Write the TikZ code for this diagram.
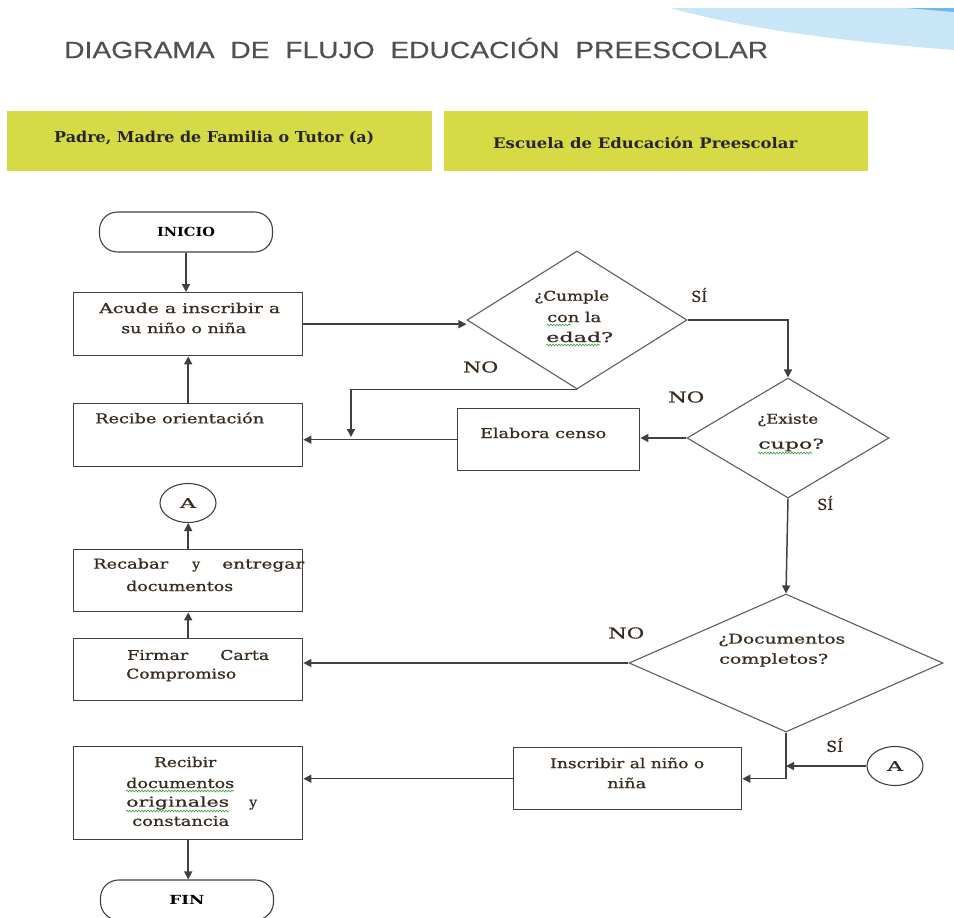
\documentclass[tikz,border=0pt]{standalone}
\usepackage{fontspec}
\usepackage{graphicx}
\setmainfont{DejaVu Serif}
\newfontfamily\titlefont{Liberation Sans}
\usetikzlibrary{arrows.meta,shapes.geometric,decorations.pathmorphing}
\newcommand{\fw}[2]{\resizebox{#1pt}{\height}{#2}}
\definecolor{hdrgreen}{RGB}{214,219,69}
\definecolor{skyblue}{RGB}{200,230,248}
\definecolor{deepblue}{RGB}{110,185,235}
\definecolor{linegray}{RGB}{64,64,64}
\definecolor{titlegray}{RGB}{80,80,80}
\definecolor{txtbrown}{RGB}{55,42,30}
\definecolor{spellgreen}{RGB}{60,160,60}
\begin{document}
\begin{tikzpicture}[x=1pt,y=-1pt,
  procbox/.style={draw=linegray,line width=1.4pt,minimum width=229pt,minimum height=63pt,inner sep=0pt,anchor=north west},
  decis/.style={draw=linegray!85,line width=1.1pt,diamond,inner sep=0pt},
  term/.style={draw=linegray,line width=1.1pt,rounded corners=18pt,minimum width=173pt,minimum height=40pt,inner sep=0pt},
  conn/.style={draw=linegray,line width=1.1pt,minimum width=56pt,minimum height=39pt,ellipse,inner sep=0pt},
  txt/.style={inner sep=0pt,anchor=west,text=txtbrown,font=\fontsize{13.5}{16}\selectfont\addfontfeature{FakeBold=0.7}},
  lbl/.style={inner sep=0pt,anchor=west,text=txtbrown,font=\fontsize{15}{18}\selectfont\addfontfeature{FakeBold=0.7}},
  arr/.style={draw=linegray,line width=1.5pt,-{Triangle[length=8pt,width=8pt]}},
  wav/.style={draw=spellgreen,line width=0.6pt,decorate,decoration={snake,amplitude=0.9pt,segment length=3pt}}]
\useasboundingbox (0,0) rectangle (954,918);
\clip (0,0) rectangle (954,918);
% blue swoosh
\fill[skyblue] (670,8) -- (954,8) -- (954,50) .. controls (850,42) and (750,30) .. (670,8) -- cycle;
\fill[deepblue] (905,8) -- (954,8) -- (954,12) .. controls (935,10.5) and (920,9) .. (905,8) -- cycle;
% title
\node[inner sep=0pt,anchor=west,text=titlegray] (title) at (64,48)
  {\fw{704}{\titlefont\fontsize{23.5}{26}\selectfont\addfontfeature{FakeBold=0.4}DIAGRAMA\ \ DE\ \ FLUJO\ \ EDUCACIÓN\ \ PREESCOLAR}};
% headers
\node[fill=hdrgreen,minimum width=425pt,minimum height=60pt,anchor=north west,inner sep=0pt] (h1) at (7,111) {};
\node[fill=hdrgreen,minimum width=424pt,minimum height=60pt,anchor=north west,inner sep=0pt] (h2) at (444,111) {};
\node[inner sep=0pt,anchor=west,text=black!85] (h1t) at (54,138) {\fw{320}{\fontsize{15}{18}\selectfont\bfseries Padre, Madre de Familia o Tutor (a)}};
\node[inner sep=0pt,anchor=west,text=black!85] (h2t) at (493,143) {\fw{304}{\fontsize{14.5}{18}\selectfont\bfseries Escuela de Educación Preescolar}};
% terminals and boxes
\node[term] (inicio) at (186,232) {\fw{58}{\fontsize{12.5}{15}\selectfont\bfseries INICIO}};
\node[procbox] (acude) at (73,292) {};
\node[procbox] (recibe) at (73,403) {};
\node[procbox,minimum width=182pt,minimum height=62pt] (elabora) at (457,408) {};
\node[conn] (a1) at (188,503) {};
\node[procbox,minimum height=62pt] (recabar) at (73,549) {};
\node[procbox,minimum height=62pt] (firmar) at (73,638) {};
\node[procbox,minimum height=93pt] (recibir) at (73,746) {};
\node[procbox,minimum width=228pt,minimum height=62pt] (inscribir) at (513,747) {};
\node[term] (fin) at (187,900) {\fw{35}{\fontsize{12.5}{15}\selectfont\bfseries FIN}};
\node[conn] (a2) at (895,766) {};
% decisions
\node[decis,minimum width=220pt,minimum height=138pt] (d1) at (577,320) {};
\node[decis,minimum width=202pt,minimum height=120pt] (d2) at (788,438) {};
\node[decis,minimum width=314pt,minimum height=138pt] (d3) at (786,663) {};
% texts
\node[txt] (t1) at (99,308) {\fw{181}{Acude a inscribir a}};
\node[txt] (t2) at (121,328) {\fw{125}{su niño o niña}};
\node[txt] (t3) at (95,418) {\fw{169}{Recibe orientación}};
\node[txt] (t4) at (534,297) {\fw{75}{¿Cumple}};
\node[txt] (t5) at (547,317) {\fw{54}{con la}};
\node[txt] (t6) at (546,337) {\fw{67}{edad?}};
\node[txt] (t7) at (480,433) {\fw{126}{Elabora censo}};
\node[txt] (t8) at (757,420) {\fw{61}{¿Existe}};
\node[txt] (t9) at (758,445) {\fw{66}{cupo?}};
\node[txt] (t10) at (93,565) {\fw{75}{Recabar}\hspace{24pt}\fw{8}{y}\hspace{22pt}\fw{82}{entregar}};
\node[txt] (t11) at (126,586) {\fw{107}{documentos}};
\node[txt] (t12) at (127,655) {\fw{61}{Firmar}\hspace{32pt}\fw{49}{Carta}};
\node[txt] (t13) at (126,675) {\fw{110}{Compromiso}};
\node[txt] (t14) at (718,640) {\fw{127}{¿Documentos}};
\node[txt] (t15) at (719,660) {\fw{109}{completos?}};
\node[txt] (t16) at (550,763) {\fw{154}{Inscribir al niño o}};
\node[txt] (t17) at (607,783) {\fw{39}{niña}};
\node[txt] (t18) at (154,762) {\fw{62}{Recibir}};
\node[txt] (t19) at (126,783) {\fw{108}{documentos}};
\node[txt] (t20) at (126,803) {\fw{103}{originales}\hspace{20pt}\fw{8}{y}};
\node[txt] (t21) at (132,821) {\fw{97}{constancia}};
\node[txt,anchor=center] (a1t) at (a1) {\fw{16}{A}};
\node[txt,anchor=center] (a2t) at (a2) {\fw{16}{A}};
% labels
\node[lbl] (no1) at (463,367) {\fw{35}{NO}};
\node[lbl] (no2) at (668,397) {\fw{36}{NO}};
\node[lbl] (no3) at (608,633) {\fw{36}{NO}};
\node[lbl] (si1) at (691,295) {\fw{16}{SÍ}};
\node[lbl] (si2) at (817,503) {\fw{16}{SÍ}};
\node[lbl] (si3) at (826,745) {\fw{17}{SÍ}};
% spell-check squiggles
\draw[wav] (547,325) -- (571,325);
\draw[wav] (546,345) -- (600,345);
\draw[wav] (758,453) -- (812,453);
\draw[wav] (126,791) -- (234,791);
\draw[wav] (126,811) -- (229,811);
% connectors
\coordinate (j1) at (351,437);
\draw[arr] (inicio.south) -- (inicio.south |- acude.north);
\draw[arr] (acude.east) -- (acude.east -| d1.west);
\draw[arr] (d1.east) -| (d2.north);
\draw[arr] (d1.south) -| (j1);
\draw[arr] (d2.west) -- (d2.west -| elabora.east);
\draw[arr] (elabora.west) -- (elabora.west -| recibe.east);
\draw[arr] (recibe.north) -- (acude.south);
\draw[arr] (d2.south) -- (d3.north);
\draw[arr] (d3.west) -- (d3.west -| firmar.east);
\draw[arr] (firmar.north) -- (recabar.south);
\draw[arr] (recabar.north) -- (recabar.north |- a1.south);
\draw[arr] (d3.south) |- (inscribir.east);
\draw[arr] (a2.west) -- (a2.west -| d3.south);
\draw[arr] (inscribir.west) -- (inscribir.west -| recibir.east);
\draw[arr] (recibir.south) -- (recibir.south |- fin.north);
\end{tikzpicture}
\end{document}
